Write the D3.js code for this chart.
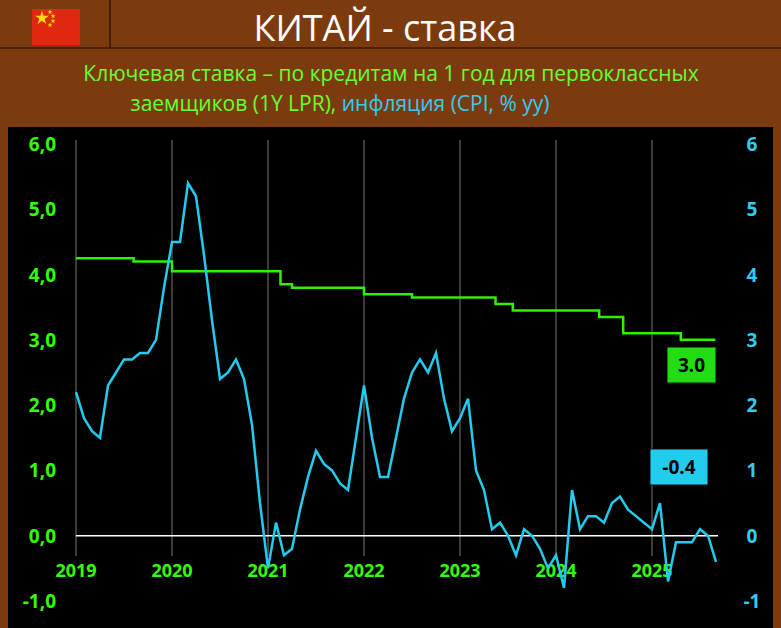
<!DOCTYPE html><html><head><meta charset="utf-8">
<script src="https://cdn.jsdelivr.net/npm/d3@7"></script>
<style>body{margin:0;background:#7b3b0f}</style></head><body><svg id="c" width="781" height="628"></svg>
<script>
const years=["2019","2020","2021","2022","2023","2024","2025"];
const leftTicks=[-1,0,1,2,3,4,5,6];
const rightTicks=[-1,0,1,2,3,4,5,6];
const lprSteps=[[2019.0,4.25],[2019.6,4.2],[2020.0,4.05],[2021.13,3.85],[2021.25,3.8],[2022.0,3.7],[2022.5,3.65],[2023.37,3.55],[2023.55,3.45],[2024.45,3.35],[2024.7,3.1],[2025.3,3.0],[2025.66,3.0]];
const cpi=[2.2,1.8,1.6,1.5,2.3,2.5,2.7,2.7,2.8,2.8,3.0,3.8,4.5,4.5,5.4,5.2,4.3,3.3,2.4,2.5,2.7,2.4,1.7,0.5,-0.5,0.2,-0.3,-0.2,0.4,0.9,1.3,1.1,1.0,0.8,0.7,1.5,2.3,1.5,0.9,0.9,1.5,2.1,2.5,2.7,2.5,2.8,2.1,1.6,1.8,2.1,1.0,0.7,0.1,0.2,0.0,-0.3,0.1,0.0,-0.2,-0.5,-0.3,-0.8,0.7,0.1,0.3,0.3,0.2,0.5,0.6,0.4,0.3,0.2,0.1,0.5,-0.7,-0.1,-0.1,-0.1,0.1,0.0,-0.4];
const svg=d3.select("#c");
const F="Open Sans, Liberation Sans, sans-serif";
svg.append("rect").attr("width",781).attr("height",628).attr("fill","#7b3b0f");
svg.append("line").attr("x1",0).attr("x2",781).attr("y1",48).attr("y2",48).attr("stroke","#3a1a05").attr("stroke-width",1.5);
svg.append("line").attr("x1",110).attr("x2",110).attr("y1",0).attr("y2",48).attr("stroke","#3a1a05").attr("stroke-width",1.5);
svg.append("rect").attr("x",32).attr("y",9).attr("width",48).attr("height",36).attr("fill","#de2910");
const star=d3.symbol().type(d3.symbolStar);
svg.append("path").attr("d",star.size(60)()).attr("transform","translate(42,18)").attr("fill","#ffde00");
[[50,12],[53,16],[53,21],[50,25]].forEach(p=>svg.append("path").attr("d",star.size(8)()).attr("transform",`translate(${p[0]},${p[1]})`).attr("fill","#ffde00"));
svg.append("text").attr("x",385).attr("y",41).attr("text-anchor","middle").attr("fill","#fff").attr("font-family",F).attr("font-size",36).text("КИТАЙ - ставка");
const st=svg.append("text").attr("x",391).attr("y",81).attr("text-anchor","middle").attr("font-family",F).attr("font-size",21).attr("fill","#66ff33");
st.text("Ключевая ставка – по кредитам на 1 год для первоклассных");
const st2=svg.append("text").attr("x",340).attr("y",111).attr("text-anchor","middle").attr("font-family",F).attr("font-size",21);
st2.append("tspan").attr("fill","#66ff33").text("заемщиков (1Y LPR), ");
st2.append("tspan").attr("fill","#33ccee").text("инфляция (CPI, % yy)");
svg.append("rect").attr("x",8).attr("y",127).attr("width",765).attr("height",501).attr("fill","#000");
const x=d3.scaleLinear().domain([2019,2025]).range([76,652]);
const y=d3.scaleLinear().domain([-1,6]).range([601,144]);
years.forEach(yr=>{
 svg.append("line").attr("x1",x(+yr)).attr("x2",x(+yr)).attr("y1",140).attr("y2",556).attr("stroke","#777").attr("stroke-width",1);
 svg.append("text").attr("x",x(+yr)).attr("y",577).attr("text-anchor","middle").attr("fill","#33ff00").attr("font-family",F).attr("font-weight","bold").attr("font-size",18).text(yr);
});
svg.append("line").attr("x1",x(2019)).attr("x2",718).attr("y1",y(0)).attr("y2",y(0)).attr("stroke","#fff").attr("stroke-width",1.5);
leftTicks.forEach(v=>svg.append("text").attr("x",56).attr("y",y(v)+7).attr("text-anchor","end").attr("fill","#33ff00").attr("font-family",F).attr("font-weight","bold").attr("font-size",19).text(v.toFixed(1).replace(".",",")));
rightTicks.forEach(v=>svg.append("text").attr("x",752).attr("y",y(v)+7).attr("text-anchor","middle").attr("fill","#33ccee").attr("font-family",F).attr("font-weight","bold").attr("font-size",19).text(v));
const lpr=d3.line().x(d=>x(d[0])).y(d=>y(d[1])).curve(d3.curveStepAfter);
svg.append("path").attr("d",lpr(lprSteps)).attr("fill","none").attr("stroke","#33ee00").attr("stroke-width",2.5);
const cl=d3.line().x((d,i)=>x(2019+i/12)).y(d=>y(d));
svg.append("path").attr("d",cl(cpi)).attr("fill","none").attr("stroke","#22ccee").attr("stroke-width",2.5);
function box(cx,cy,w,txt,fill){svg.append("rect").attr("x",cx).attr("y",cy).attr("width",w).attr("height",36).attr("fill",fill).attr("stroke","#111");
 svg.append("text").attr("x",cx+w/2).attr("y",cy+25).attr("text-anchor","middle").attr("font-family",F).attr("font-weight","bold").attr("font-size",19).attr("fill","#000").text(txt);}
box(667,347,49,lprSteps[lprSteps.length-1][1].toFixed(1),"#22dd11");
box(650,449,58,cpi[cpi.length-1].toFixed(1),"#22ccee");
</script></body></html>
